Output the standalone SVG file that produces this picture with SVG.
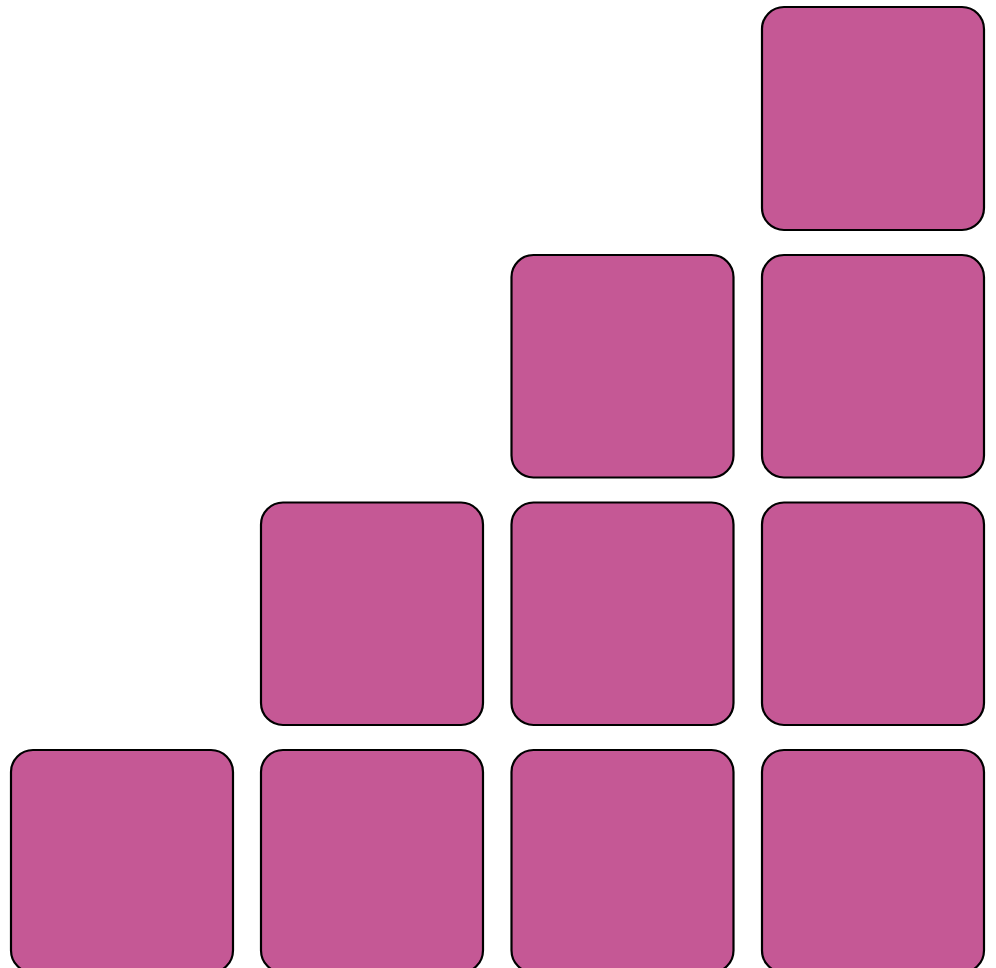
<svg xmlns="http://www.w3.org/2000/svg" width="996" height="968" viewBox="0 0 996 968">
<style>
.b{fill:#C55895;stroke:#000;stroke-width:2.2}
</style>
<rect width="996" height="968" fill="#fff"/>
<g id="n03"><rect class="b" x="762" y="7" width="222" height="223" rx="22"/></g>
<g id="n12"><rect class="b" x="511.5" y="255" width="222" height="222.5" rx="22"/></g>
<g id="n13"><rect class="b" x="762" y="255" width="222" height="222.5" rx="22"/></g>
<g id="n21"><rect class="b" x="261" y="502.5" width="222" height="222.5" rx="22"/></g>
<g id="n22"><rect class="b" x="511.5" y="502.5" width="222" height="222.5" rx="22"/></g>
<g id="n23"><rect class="b" x="762" y="502.5" width="222" height="222.5" rx="22"/></g>
<g id="n30"><rect class="b" x="11" y="750" width="222" height="222.5" rx="22"/></g>
<g id="n31"><rect class="b" x="261" y="750" width="222" height="222.5" rx="22"/></g>
<g id="n32"><rect class="b" x="511.5" y="750" width="222" height="222.5" rx="22"/></g>
<g id="n33"><rect class="b" x="762" y="750" width="222" height="222.5" rx="22"/></g>
<g id="connectors"></g>
</svg>
